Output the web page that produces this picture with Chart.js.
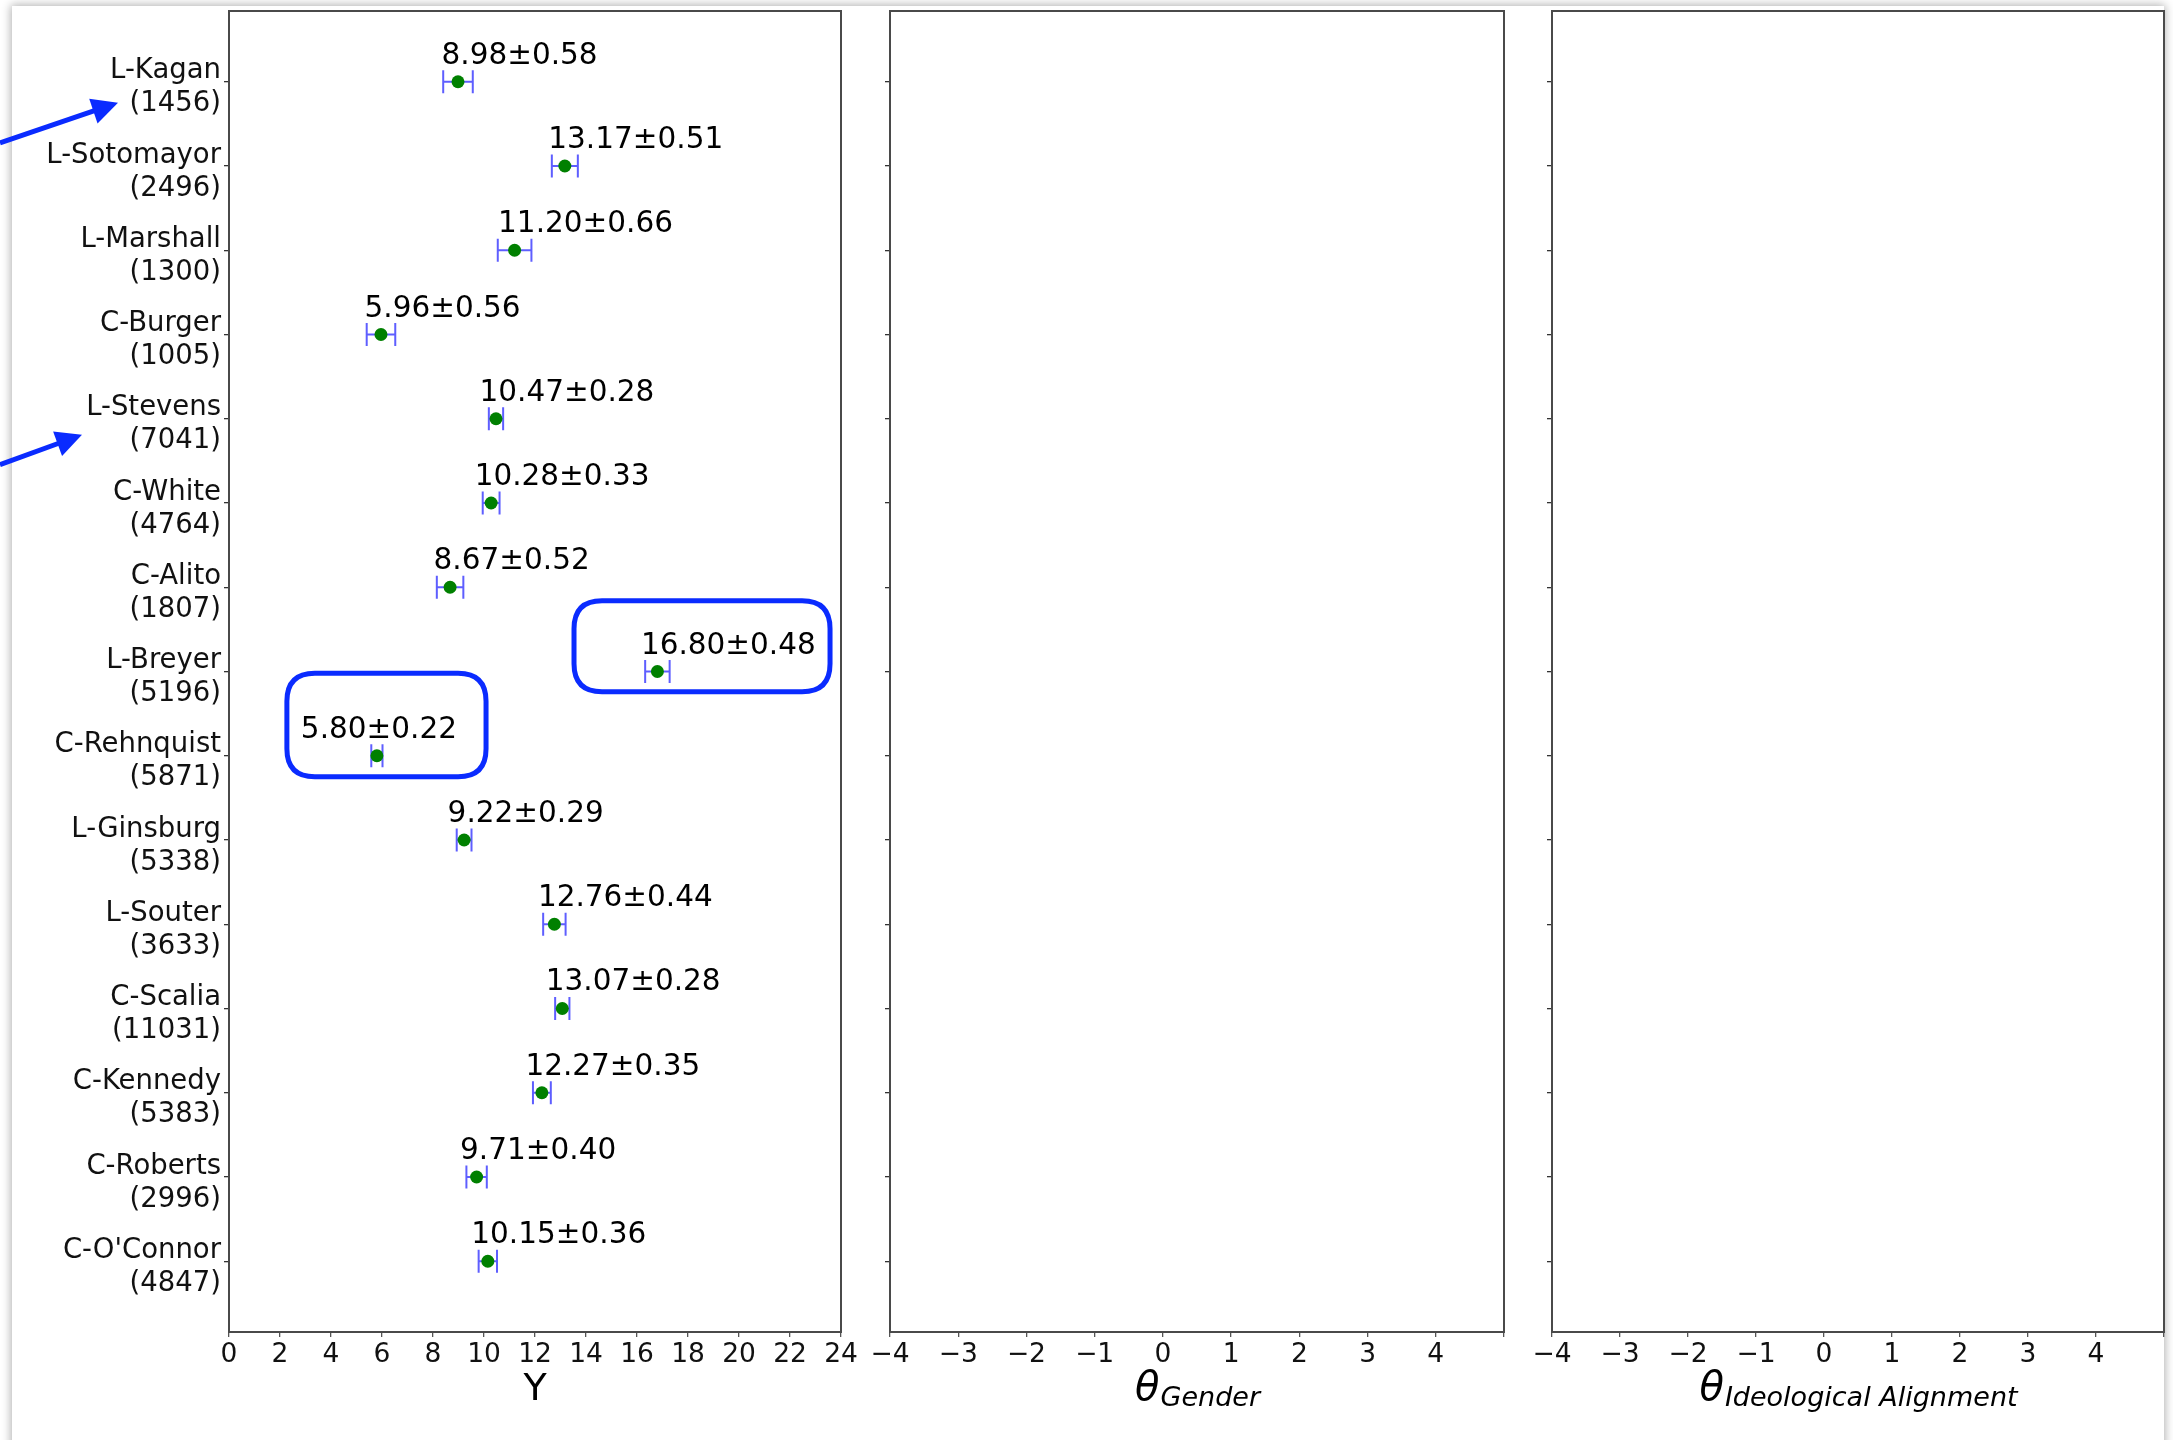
<!DOCTYPE html>
<html>
<head>
<meta charset="utf-8">
<script src="https://cdn.jsdelivr.net/npm/chart.js@4.4.1/dist/chart.umd.min.js"></script>
<style>
  html, body { margin:0; padding:0; width:2173px; height:1440px; overflow:hidden; background:#ffffff; }
  #fig { position:absolute; left:12px; top:6px; width:2152px; height:1460px; background:#fff;
         box-shadow: 0 0 9px 1px rgba(0,0,0,0.32); }
  canvas { position:absolute; top:0; }
  #c1 { left:0; }
  #c2 { left:866px; }
  #c3 { left:1528px; }
</style>
</head>
<body>
<div id="fig"></div>
<canvas id="c1" width="866" height="1440"></canvas>
<canvas id="c2" width="662" height="1440"></canvas>
<canvas id="c3" width="645" height="1440"></canvas>
<script>
// ---------------- data ----------------
const categories = ['L-Kagan','L-Sotomayor','L-Marshall','C-Burger','L-Stevens','C-White','C-Alito',
                    'L-Breyer','C-Rehnquist','L-Ginsburg','L-Souter','C-Scalia','C-Kennedy','C-Roberts',"C-O'Connor"];
const counts = [1456, 2496, 1300, 1005, 7041, 4764, 1807, 5196, 5871, 5338, 3633, 11031, 5383, 2996, 4847];
const means  = [8.98, 13.17, 11.20, 5.96, 10.47, 10.28, 8.67, 16.80, 5.80, 9.22, 12.76, 13.07, 12.27, 9.71, 10.15];
const errs   = [0.58, 0.51, 0.66, 0.56, 0.28, 0.33, 0.52, 0.48, 0.22, 0.29, 0.44, 0.28, 0.35, 0.40, 0.36];
const yTicksPanel1 = [0,2,4,6,8,10,12,14,16,18,20,22,24];
const thetaTicks = [-4,-3,-2,-1,0,1,2,3,4,5];

// ---------------- helpers ----------------
const FONT = "'DejaVu Sans'";
const SPINE = '#4a4a4a';
const fmtTick = v => (v < 0 ? '\u2212' + Math.abs(v) : String(v));

function yScale(showLabels, axisWidth) {
  return {
    type: 'linear', reverse: true,
    min: -0.84, max: categories.length - 1 + 0.84,
    afterBuildTicks: s => { s.ticks = categories.map((_, i) => ({ value: i })); },
    afterFit: s => { s.width = axisWidth; s.paddingTop = 0; s.paddingBottom = 0; },
    grid: { drawOnChartArea: false, drawTicks: true, tickLength: 5, color: '#333', lineWidth: 1.3 },
    border: { display: false },
    ticks: {
      display: showLabels, padding: 3, color: '#111', labelOffset: 6,
      font: { family: FONT, size: 27.5, lineHeight: 1.2 },
      callback: v => showLabels ? [categories[v], '(' + counts[v] + ')'] : ''
    }
  };
}
function xScale(tickValues, hideLast) {
  const last = tickValues[tickValues.length - 1];
  return {
    type: 'linear', position: 'bottom',
    min: tickValues[0], max: last,
    afterBuildTicks: s => { s.ticks = tickValues.map(v => ({ value: v })); },
    afterFit: s => { s.height = 108; s.paddingLeft = 0; s.paddingRight = 0; },
    grid: { drawOnChartArea: false, drawTicks: true, tickLength: 5, color: '#555', lineWidth: 1.3 },
    border: { display: false },
    ticks: {
      autoSkip: false, maxRotation: 0, minRotation: 0, padding: 2, color: '#111',
      font: { family: FONT, size: 26.5 },
      callback: v => (hideLast && v === last) ? '' : fmtTick(v)
    }
  };
}

// frame (four spines)
const framePlugin = {
  id: 'frame',
  beforeDatasetsDraw(chart) {
    const { ctx, chartArea: a } = chart;
    ctx.save();
    ctx.strokeStyle = SPINE; ctx.lineWidth = 2;
    ctx.strokeRect(a.left, a.top, a.right - a.left, a.bottom - a.top);
    ctx.restore();
  }
};

// axis titles with optional subscript
const titlePlugin = {
  id: 'axTitle',
  afterDraw(chart, args, o) {
    const { ctx, chartArea: a } = chart;
    const cx = (a.left + a.right) / 2;
    const base = a.bottom + 68;
    ctx.save();
    ctx.fillStyle = '#000'; ctx.textBaseline = 'alphabetic'; ctx.textAlign = 'left';
    ctx.font = o.mainFont; const w1 = ctx.measureText(o.main).width;
    let w2 = 0;
    if (o.sub) { ctx.font = o.subFont; w2 = ctx.measureText(o.sub).width; }
    const x = cx - (w1 + w2) / 2;
    ctx.font = o.mainFont; ctx.fillText(o.main, x, base);
    if (o.sub) { ctx.font = o.subFont; ctx.fillText(o.sub, x + w1 + 1, base + 6); }
    ctx.restore();
  }
};

// error bars, value labels, highlight boxes and arrows for panel 1
const errPlugin = {
  id: 'errbars',
  beforeDatasetsDraw(chart) {
    const { ctx } = chart; const xs = chart.scales.x, ys = chart.scales.y;
    ctx.save();
    ctx.strokeStyle = 'rgba(40,40,255,0.75)'; ctx.lineWidth = 2;
    means.forEach((m, i) => {
      const y = ys.getPixelForValue(i);
      const x0 = xs.getPixelForValue(m - errs[i]), x1 = xs.getPixelForValue(m + errs[i]);
      ctx.beginPath();
      ctx.moveTo(x0, y); ctx.lineTo(x1, y);
      ctx.moveTo(x0, y - 11.5); ctx.lineTo(x0, y + 11.5);
      ctx.moveTo(x1, y - 11.5); ctx.lineTo(x1, y + 11.5);
      ctx.stroke();
    });
    ctx.restore();
  },
  afterDatasetsDraw(chart, args, o) {
    const { ctx } = chart; const xs = chart.scales.x, ys = chart.scales.y;
    ctx.save();
    // value labels
    ctx.fillStyle = '#000'; ctx.font = '29.5px ' + FONT; ctx.textBaseline = 'alphabetic';
    means.forEach((m, i) => {
      const x = xs.getPixelForValue(m), y = ys.getPixelForValue(i);
      const txt = m.toFixed(2) + '\u00b1' + errs[i].toFixed(2);
      if (o.centered.includes(i)) { ctx.textAlign = 'center'; ctx.fillText(txt, x + 2, y - 18); }
      else { ctx.textAlign = 'left'; ctx.fillText(txt, x - 16.5, y - 18); }
    });
    // highlight boxes
    ctx.strokeStyle = o.color; ctx.lineWidth = 5;
    o.boxes.forEach(b => {
      const l = xs.getPixelForValue(b.x0), r = xs.getPixelForValue(b.x1);
      const t = ys.getPixelForValue(b.row + b.dy0), btm = ys.getPixelForValue(b.row + b.dy1);
      const rad = 28;
      ctx.beginPath();
      ctx.moveTo(l + rad, t); ctx.lineTo(r - rad, t); ctx.quadraticCurveTo(r, t, r, t + rad);
      ctx.lineTo(r, btm - rad); ctx.quadraticCurveTo(r, btm, r - rad, btm);
      ctx.lineTo(l + rad, btm); ctx.quadraticCurveTo(l, btm, l, btm - rad);
      ctx.lineTo(l, t + rad); ctx.quadraticCurveTo(l, t, l + rad, t);
      ctx.closePath(); ctx.stroke();
    });
    // arrows pointing at tick labels
    ctx.fillStyle = o.color; ctx.lineWidth = 5; ctx.lineCap = 'butt';
    o.arrows.forEach(a => {
      const ry = ys.getPixelForValue(a.row);
      const tx = a.tipX, ty = ry + a.tipDy, sx = 0, sy = ry + a.startDy;
      const ang = Math.atan2(ty - sy, tx - sx);
      const hl = 26, hw = 13;
      const bx = tx - hl * Math.cos(ang), by = ty - hl * Math.sin(ang);
      ctx.beginPath(); ctx.moveTo(sx, sy); ctx.lineTo(bx + 2 * Math.cos(ang), by + 2 * Math.sin(ang)); ctx.stroke();
      ctx.beginPath();
      ctx.moveTo(tx, ty);
      ctx.lineTo(bx - hw * Math.sin(ang), by + hw * Math.cos(ang));
      ctx.lineTo(bx + hw * Math.sin(ang), by - hw * Math.cos(ang));
      ctx.closePath(); ctx.fill();
    });
    ctx.restore();
  }
};

const common = {
  responsive: false, animation: false, events: [],
};

// ---------------- panel 1 ----------------
new Chart(document.getElementById('c1'), {
  type: 'scatter',
  data: { datasets: [{
    data: means.map((m, i) => ({ x: m, y: i })),
    backgroundColor: '#008000', borderWidth: 0, pointRadius: 6.5, pointHoverRadius: 6.5
  }]},
  options: Object.assign({}, common, {
    layout: { padding: { left: 0, top: 11, right: 25, bottom: 0 } },
    scales: { x: xScale(yTicksPanel1, false), y: yScale(true, 229) },
    plugins: {
      legend: { display: false }, tooltip: { enabled: false },
      axTitle: { main: 'Y', mainFont: '38px ' + FONT },
      errbars: {
        color: '#0a2bff',
        centered: [8],
        boxes: [ { row: 7, x0: 13.53, x1: 23.57, dy0: -0.84, dy1: 0.24 },
                 { row: 8, x0: 2.27,  x1: 10.08, dy0: -0.98, dy1: 0.25 } ],
        arrows: [ { row: 0, tipX: 118, tipDy: 21, startDy: 61 },
                  { row: 4, tipX: 82,  tipDy: 16, startDy: 46 } ]
      }
    }
  }),
  plugins: [framePlugin, errPlugin, titlePlugin]
});

// ---------------- panels 2 & 3 ----------------
function emptyPanel(id, padRight, main, sub) {
  new Chart(document.getElementById(id), {
    type: 'scatter',
    data: { datasets: [{ data: [] }] },
    options: Object.assign({}, common, {
      layout: { padding: { left: 14, top: 11, right: padRight, bottom: 0 } },
      scales: { x: xScale(thetaTicks, true), y: yScale(false, 10) },
      plugins: {
        legend: { display: false }, tooltip: { enabled: false },
        axTitle: { main: main, mainFont: 'italic 40px ' + FONT, sub: sub, subFont: 'italic 27px ' + FONT }
      }
    }),
    plugins: [framePlugin, titlePlugin]
  });
}
emptyPanel('c2', 24, '\u03b8', 'Gender');
emptyPanel('c3', 9, '\u03b8', 'Ideological Alignment');
</script>
</body>
</html>
